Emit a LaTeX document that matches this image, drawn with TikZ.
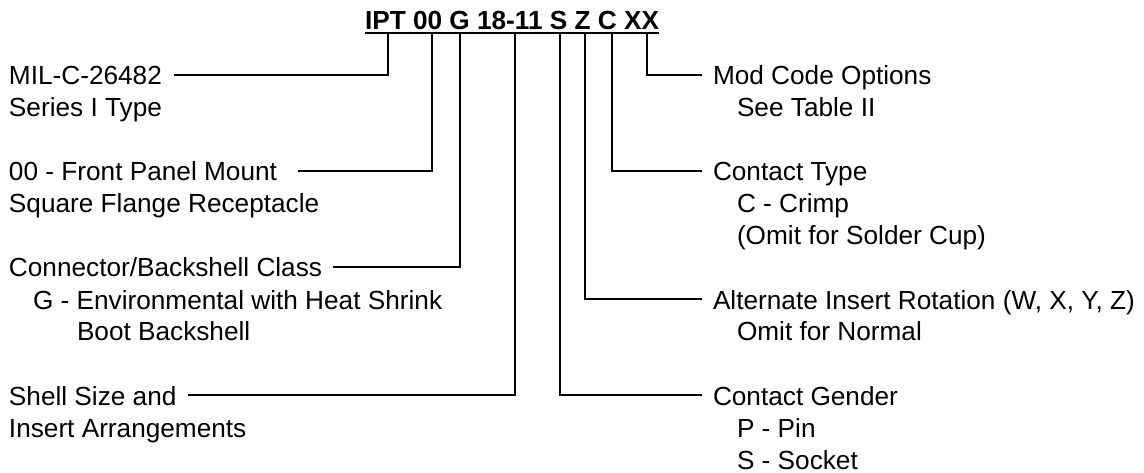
\documentclass[tikz,border=0pt]{standalone}
\usepackage{fontspec}
\setmainfont{Liberation Sans}
\usetikzlibrary{calc}
\begin{document}
\begin{tikzpicture}[x=1pt,y=-1pt,
  lbl/.style={anchor=base west, inner sep=0pt, outer sep=0pt, text height=20pt, text depth=0pt,
    font=\fontsize{26.2}{31.5}\selectfont},
  titlebox/.style={anchor=base west, inner sep=0pt, outer sep=0pt, text depth=3pt,
    font=\fontsize{26.2}{31.5}\selectfont\bfseries},
  conn/.style={line width=2pt, line join=miter}]
\useasboundingbox (0,0) rectangle (1144,473);

% code title
\node[titlebox] (title) at (365,30) {IPT 00 G 18-11 S Z C XX};
\draw[conn] (title.south west) -- (title.south east);
\coordinate (tIPT)  at ($(title.south west)+(23,0)$);
\coordinate (t00)   at ($(title.south west)+(67,0)$);
\coordinate (tG)    at ($(title.south west)+(95,0)$);
\coordinate (t1811) at ($(title.south west)+(150,0)$);
\coordinate (tS)    at ($(title.south west)+(195,0)$);
\coordinate (tZ)    at ($(title.south west)+(220,0)$);
\coordinate (tC)    at ($(title.south west)+(247,0)$);
\coordinate (tXX)   at ($(title.south west)+(282,0)$);

% left labels
\node[lbl] (mil)  at (9,85)  {MIL-C-26482};
\node[lbl] (mil2) at (9,117) {Series I Type};
\node[lbl] (mnt)  at (9,181) {00 - Front Panel Mount};
\node[lbl] (mnt2) at (9,213) {Square Flange Receptacle};
\node[lbl] (cls)  at (9,277) {Connector/Backshell Class};
\node[lbl] (cls2) at (33,309) {G - Environmental with Heat Shrink};
\node[lbl] (cls3) at (77,341) {Boot Backshell};
\node[lbl] (shl)  at (9,405) {Shell Size and};
\node[lbl] (shl2) at (9,437) {Insert Arrangements};

% right labels
\node[lbl] (mod)  at (713,85)  {Mod Code Options};
\node[lbl] (mod2) at (737,117) {See Table II};
\node[lbl] (ctp)  at (713,181) {Contact Type};
\node[lbl] (ctp2) at (737,213) {C - Crimp};
\node[lbl] (ctp3) at (737,245) {(Omit for Solder Cup)};
\node[lbl] (rot)  at (713,309) {Alternate Insert Rotation (W, X, Y, Z)};
\node[lbl] (rot2) at (737,341) {Omit for Normal};
\node[lbl] (gen)  at (713,405) {Contact Gender};
\node[lbl] (gen2) at (737,437) {P - Pin};
\node[lbl] (gen3) at (737,469) {S - Socket};

% connectors
\draw[conn] (tIPT)  |- ([xshift=12pt]mil.east);
\draw[conn] (t00)   |- ([xshift=21pt]mnt.east);
\draw[conn] (tG)    |- ([xshift=11pt]cls.east);
\draw[conn] (t1811) |- ([xshift=11pt]shl.east);
\draw[conn] (tS)    |- ([xshift=-11pt]gen.west);
\draw[conn] (tZ)    |- ([xshift=-11pt]rot.west);
\draw[conn] (tC)    |- ([xshift=-11pt]ctp.west);
\draw[conn] (tXX)   |- ([xshift=-11pt]mod.west);
\end{tikzpicture}
\end{document}
